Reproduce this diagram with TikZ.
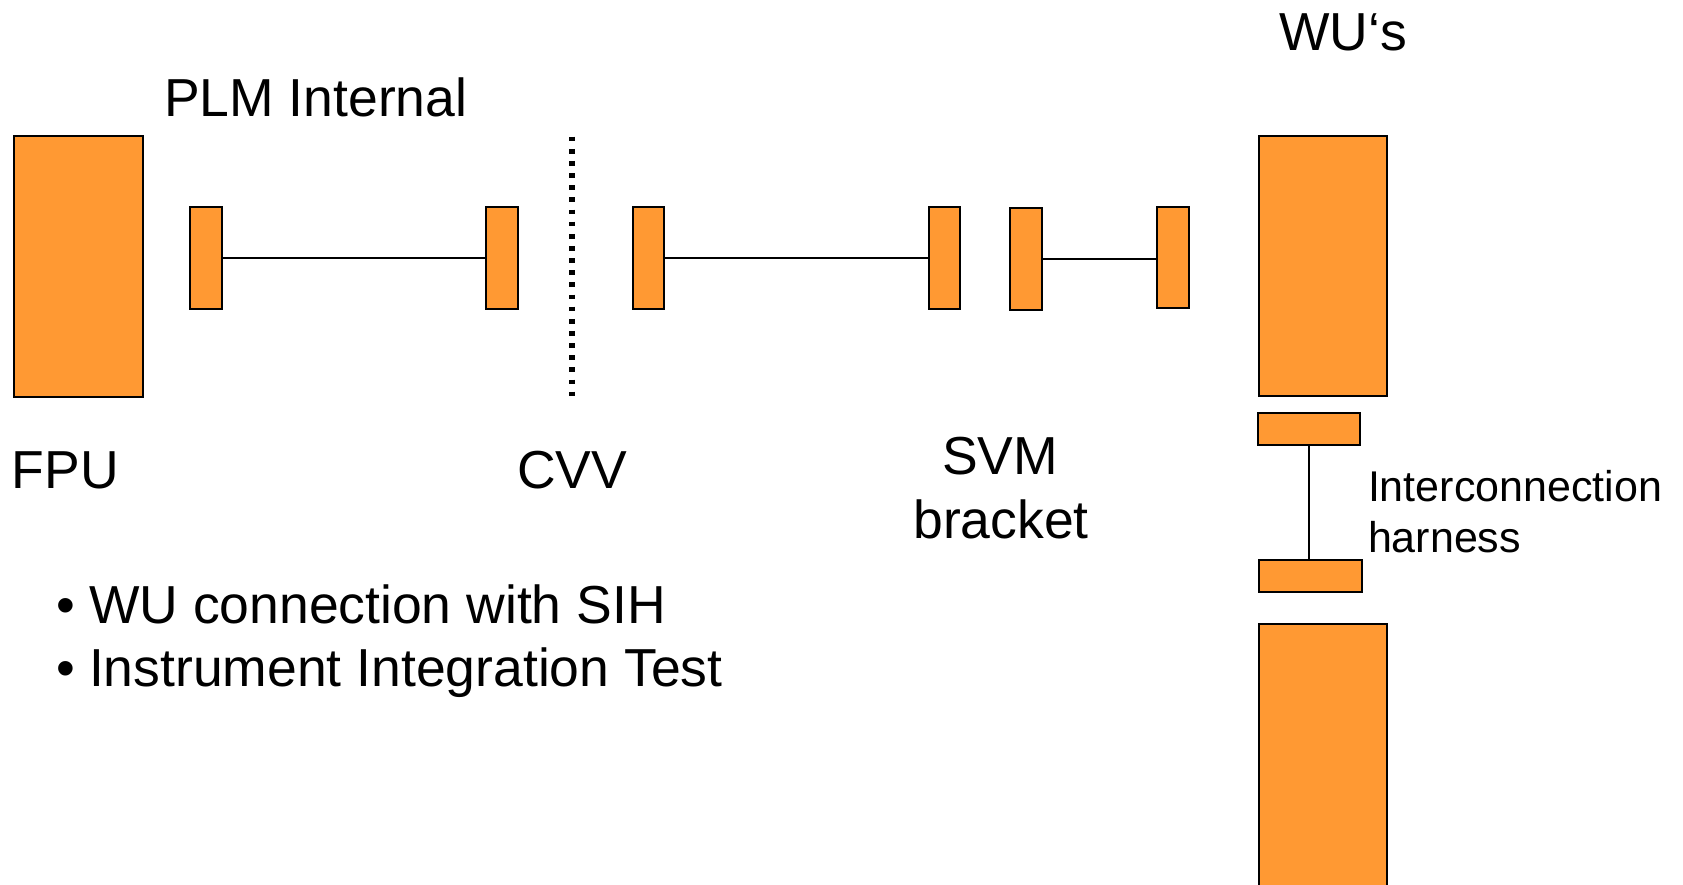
\documentclass[tikz,border=0pt]{standalone}
\usepackage{fontspec}
\setmainfont{Liberation Sans}
\definecolor{partorange}{RGB}{255,153,51}
\tikzset{
  part/.style={rectangle, draw=black, line width=1.8pt, fill=partorange,
               inner sep=0pt, outer sep=0pt, anchor=north west},
  cable/.style={draw=black, line width=1.5pt},
  lbl/.style={inner sep=0pt, outer sep=0pt, text=black,
              font=\fontsize{53.5pt}{64pt}\selectfont},
  smalllbl/.style={lbl, font=\fontsize{43pt}{50pt}\selectfont},
}
\begin{document}
\begin{tikzpicture}[x=1pt, y=-1pt]
\useasboundingbox (0,0) rectangle (1683,884);
\fill[white] (0,0) rectangle (1683,884);
\clip (0,0) rectangle (1683,884);

% focal plane unit and PLM internal harness
\node[part, minimum width=129pt, minimum height=261pt] (fpu) at (14,136) {};
\node[part, minimum width=32pt, minimum height=102pt] (c1) at (190,207) {};
\node[part, minimum width=32pt, minimum height=102pt] (c2) at (486,207) {};
\draw[cable] (c1.east) -- (c2.west);

% CVV wall
\coordinate (cvvtop) at (572,136.7);
\coordinate (cvvbot) at (572,396);
\draw[line width=6pt, dash pattern=on 4.7pt off 7.44pt] (cvvtop) -- (cvvbot);

% harness to the SVM bracket
\node[part, minimum width=31pt, minimum height=102pt] (c3) at (633,207) {};
\node[part, minimum width=31pt, minimum height=102pt] (c4) at (929,207) {};
\draw[cable] (c3.east) -- (c3.east -| c4.west);

% bracket to the warm units
\node[part, minimum width=32pt, minimum height=102pt] (c5) at (1010,208) {};
\node[part, minimum width=32pt, minimum height=101pt] (c6) at (1157,207) {};
\draw[cable] (c5.east) -- (c5.east -| c6.west);

% warm units and interconnection harness
\node[part, minimum width=128pt, minimum height=260pt] (wu1) at (1259,136) {};
\node[part, minimum width=102pt, minimum height=32pt] (h1) at (1258,413) {};
\node[part, minimum width=103pt, minimum height=32pt] (h2) at (1259,560) {};
\draw[cable] (h1.south) -- (h1.south |- h2.north);
\node[part, minimum width=128pt, minimum height=300pt] (wu2) at (1259,624) {};

% labels
\node[lbl, anchor=base west] (plm) at (164,116) {PLM Internal};
\node[lbl, anchor=base west] (fpulbl) at (12,488) {FPU};
\node[lbl, anchor=base] (cvvlbl) at (572,488) {CVV};
\node[lbl, anchor=base] (svmlbl) at (1000,474) {SVM};
\node[lbl, anchor=base] (brklbl) at (1001,538) {bracket};
\node[lbl, anchor=base west] (wulbl) at (1279,50) {WU‘s};
\node[smalllbl, anchor=base west] (ih1) at (1368,501.7) {Interconnection};
\node[smalllbl, anchor=base west] (ih2) at (1368,552.3) {harness};

% bullet list
\node[lbl, anchor=base west] (item1) at (56,623) {•\hspace{14.3pt}WU connection with SIH};
\node[lbl, anchor=base west] (item2) at (56,686) {•\hspace{14.3pt}Instrument Integration Test};
\end{tikzpicture}
\end{document}
